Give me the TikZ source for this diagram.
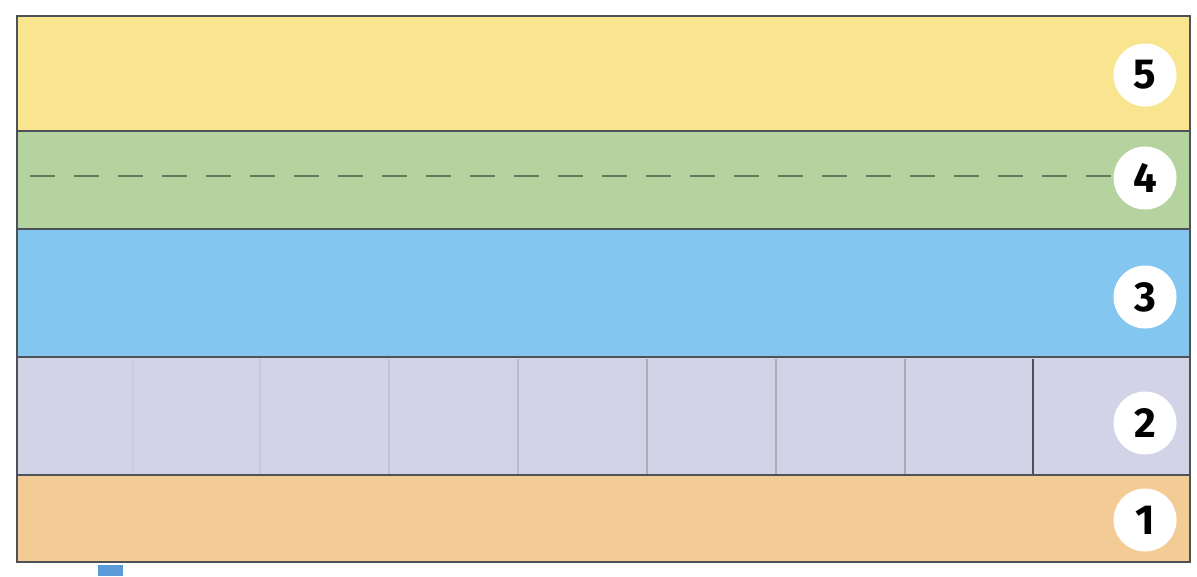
\documentclass[tikz,border=0pt]{standalone}
\usepackage{fontspec}
\setmainfont{Fira Sans}
\definecolor{lyellow}{HTML}{F9E58F}
\definecolor{lgreen}{HTML}{B4D39F}
\definecolor{lblue}{HTML}{83C6EF}
\definecolor{llav}{HTML}{D3D3E7}
\definecolor{lorange}{HTML}{F3CC95}
\definecolor{edgecol}{HTML}{4F5158}
\definecolor{dashcol}{HTML}{5E7A58}
\definecolor{pincol}{HTML}{5B9BD8}
\tikzset{
  layer/.style={draw=edgecol, line width=2.8pt},
  badge/.style={circle, fill=white, minimum size=63pt, inner sep=0pt, font=\fontsize{42}{42}\selectfont\bfseries, text=black},
  divider/.style={line width=2pt}
}
\begin{document}
\begin{tikzpicture}[x=1pt,y=-1pt]
\useasboundingbox (0,0) rectangle (1197,576);
\fill[white] (0,0) rectangle (1197,576);
% small blue tab below
\fill[fill=pincol] (98,565) rectangle (123,576);
% layers
\draw[layer, fill=lyellow] (17,16) rectangle (1190,131);
\draw[layer, fill=lgreen] (17,131) rectangle (1190,229);
\draw[layer, fill=lblue] (17,229) rectangle (1190,357);
\draw[layer, fill=llav] (17,357) rectangle (1190,475);
\draw[layer, fill=lorange] (17,475) rectangle (1190,562);
% dividers in layer 2
\draw[divider, draw=llav!92!gray] (133,358.5) -- (133,473.5);
\draw[divider, draw=llav!85!gray] (260,358.5) -- (260,473.5);
\draw[divider, draw=llav!78!gray] (389,358.5) -- (389,473.5);
\draw[divider, draw=llav!70!gray] (518,358.5) -- (518,473.5);
\draw[divider, draw=llav!55!gray] (647,358.5) -- (647,473.5);
\draw[divider, draw=llav!55!gray] (776,358.5) -- (776,473.5);
\draw[divider, draw=llav!50!gray] (905,358.5) -- (905,473.5);
\draw[line width=2.4pt, draw=edgecol] (1033,358.5) -- (1033,473.5);
% dashed line in layer 4
\draw[dashcol, line width=2.8pt, dash pattern=on 25pt off 19pt] (30,176) -- (1115,176);
% badges
\node[badge] (n5) at (1145,75) {5};
\node[badge] (n4) at (1145,178) {4};
\node[badge] (n3) at (1145,297) {3};
\node[badge] (n2) at (1145,423) {2};
\node[badge] (n1) at (1145,520) {1};
\end{tikzpicture}
\end{document}
